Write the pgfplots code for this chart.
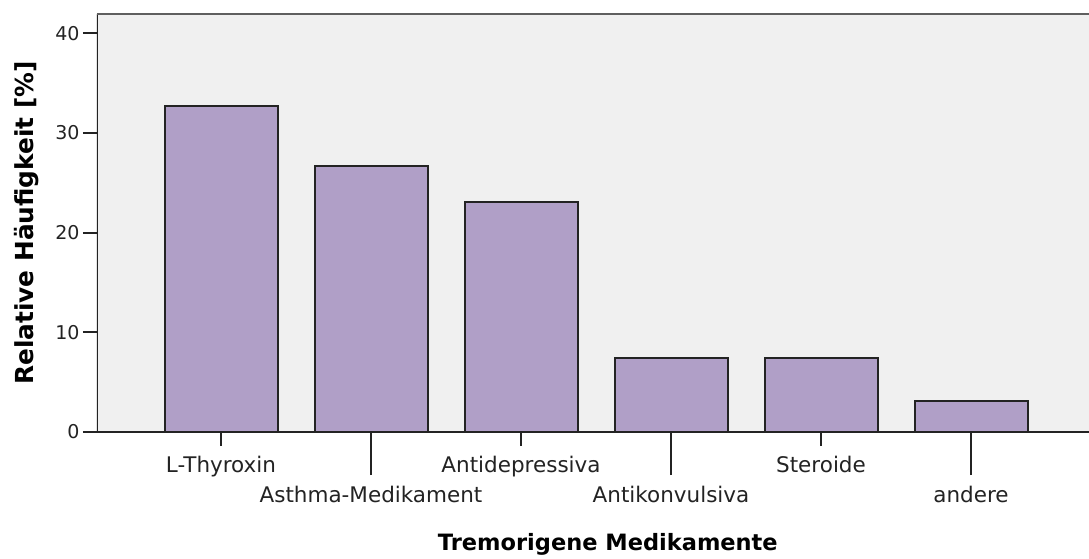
\documentclass[border=0pt]{standalone}
\usepackage{fontspec}
\setmainfont{DejaVu Sans}
\usepackage{pgfplots}
\pgfplotsset{compat=1.18}
\definecolor{barfill}{RGB}{176,159,199}
\definecolor{bg}{RGB}{240,240,240}
\definecolor{axc}{RGB}{35,35,35}
\definecolor{topc}{RGB}{95,95,95}
\begin{document}
\begin{tikzpicture}
\begin{axis}[
  name=ax,
  scale only axis,
  width=992pt, height=418pt,
  xmin=-0.8267, xmax=5.7867,
  ymin=0, ymax=41.95,
  axis line style={draw=none},
  axis background/.style={fill=bg},
  tick align=outside,
  xtick pos=left, ytick pos=left,
  major tick length=14pt,
  tick style={axc, line width=2pt},
  /pgf/number format/assume math mode=true,
  ytick={0,10,20,30,40},
  xtick={0,2,4},
  xticklabels={L-Thyroxin,Antidepressiva,Steroide},
  extra x ticks={1,3,5},
  extra x tick labels={Asthma-Medikament,Antikonvulsiva,andere},
  extra x tick style={major tick length=43pt, xticklabel style={yshift=-1pt}},
  xticklabel style={font=\fontsize{21.5}{24}\selectfont, text=axc, anchor=base, yshift=-26pt},
  yticklabel style={font=\fontsize{19}{21}\selectfont, text=axc},
  xlabel={Tremorigene Medikamente},
  xlabel style={font=\bfseries\fontsize{22.5}{26}\selectfont, at={([yshift=-118pt]axis description cs:0.515,0)}, anchor=base},
  ylabel={Relative Häufigkeit [\%]},
  ylabel style={font=\bfseries\fontsize{24.8}{27}\selectfont, at={([xshift=-63pt]axis description cs:0,0.5)}, anchor=base, rotate=0},
]
\addplot[ybar, bar width=113pt, fill=barfill, draw=axc, line width=2pt]
  coordinates {(0,32.7) (1,26.7) (2,23.1) (3,7.4) (4,7.4) (5,3.1)};
\draw[axc, line width=2pt] (rel axis cs:0,1) -- (rel axis cs:0,0) -- (rel axis cs:1,0);
\draw[topc, line width=2pt] (rel axis cs:0,1) -- (rel axis cs:1,1);
\end{axis}
\pgfresetboundingbox
\path[use as bounding box] ([shift={(-97pt,-126pt)}]ax.south west) rectangle ([shift={(0pt,14pt)}]ax.north east);
\end{tikzpicture}
\end{document}
